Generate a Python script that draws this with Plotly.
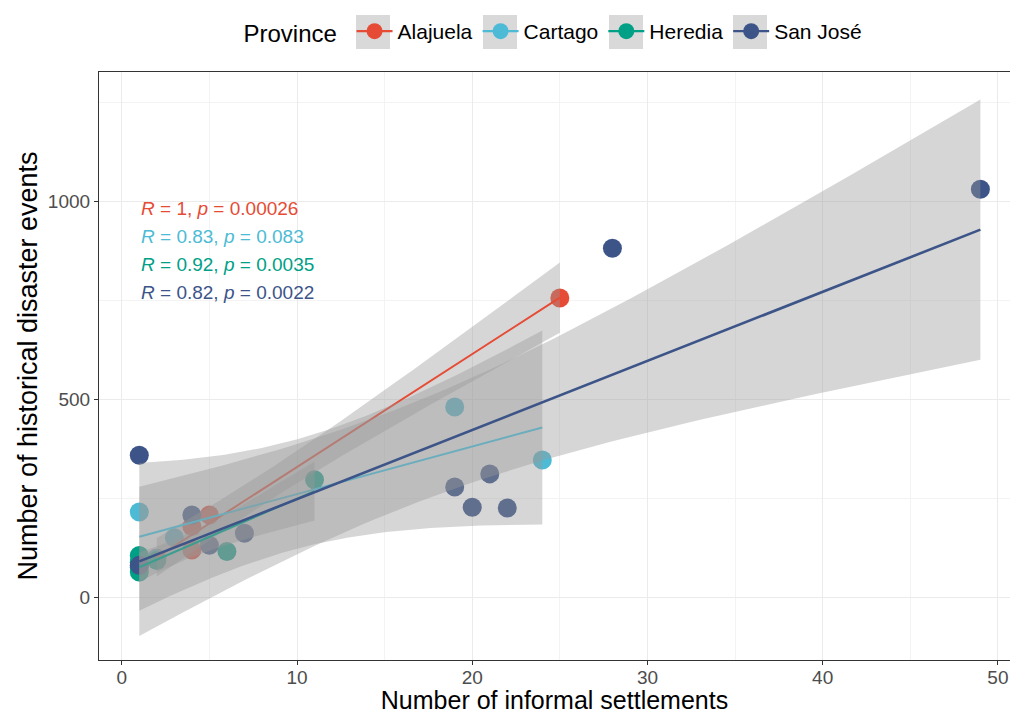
import math
import numpy as np
import plotly.graph_objects as go

# ---- data ----
provinces = ["Alajuela", "Cartago", "Heredia", "San José"]
colors = ["#E64B35", "#4DBBD5", "#00A087", "#3C5488"]

alajuela_x = [2, 4, 4, 5, 25]
alajuela_y = [98, 119, 178, 207, 755]

cartago_x = [1, 2, 3, 19, 24]
cartago_y = [215, 98, 150, 480, 346]

heredia_x = [1, 1, 1, 1, 2, 6, 11]
heredia_y = [105, 88, 75, 63, 92, 115, 296]

sanjose_x = [1, 1, 4, 5, 7, 19, 20, 21, 22, 28, 49]
sanjose_y = [358, 80, 207, 131, 161, 278, 227, 311, 225, 881, 1030]

cor_labels = [
    "<i>R</i> = 1, <i>p</i> = 0.00026",
    "<i>R</i> = 0.83, <i>p</i> = 0.083",
    "<i>R</i> = 0.92, <i>p</i> = 0.0035",
    "<i>R</i> = 0.82, <i>p</i> = 0.0022",
]
cor_label_y = [982, 911, 840, 769]

x_ticks = [0, 10, 20, 30, 40, 50]
y_ticks = [0, 500, 1000]

groups = [
    (alajuela_x, alajuela_y),
    (cartago_x, cartago_y),
    (heredia_x, heredia_y),
    (sanjose_x, sanjose_y),
]

FONT = "Liberation Sans, Arial, sans-serif"


def t_pdf(t, df):
    c = math.gamma((df + 1) / 2) / (math.sqrt(df * math.pi) * math.gamma(df / 2))
    return c * (1 + t * t / df) ** (-(df + 1) / 2)


def t_quantile(p, df):
    def cdf(t):
        xs = np.linspace(0, t, 4001)
        ys = t_pdf(xs, df)
        return 0.5 + np.trapezoid(ys, xs)
    lo, hi = 0.0, 50.0
    for _ in range(80):
        mid = (lo + hi) / 2
        if cdf(mid) < p:
            lo = mid
        else:
            hi = mid
    return (lo + hi) / 2


def lm_band(xs, ys, n_grid=80):
    x = np.asarray(xs, float)
    y = np.asarray(ys, float)
    n = len(x)
    xm, ym = x.mean(), y.mean()
    sxx = ((x - xm) ** 2).sum()
    b = ((x - xm) * (y - ym)).sum() / sxx
    a = ym - b * xm
    resid = y - (a + b * x)
    s = math.sqrt((resid ** 2).sum() / (n - 2))
    tq = t_quantile(0.975, n - 2)
    g = np.linspace(x.min(), x.max(), n_grid)
    fit = a + b * g
    se = s * np.sqrt(1 / n + (g - xm) ** 2 / sxx)
    return g, fit, fit - tq * se, fit + tq * se


fig = go.Figure()

# points first (drawn below the smooths, as in ggplot layer order)
for (xs, ys), name, col in zip(groups, provinces, colors):
    fig.add_trace(go.Scatter(
        x=xs, y=ys, mode="markers", name=name, legendgroup=name,
        showlegend=False, hoverinfo="x+y",
        marker=dict(size=19, color=col, line=dict(width=0)),
    ))

# smooths: ribbon + line per group
for (xs, ys), name, col in zip(groups, provinces, colors):
    g, fit, lo, hi = lm_band(xs, ys)
    fig.add_trace(go.Scatter(
        x=np.concatenate([g, g[::-1]]), y=np.concatenate([hi, lo[::-1]]),
        mode="lines", fill="toself", fillcolor="rgba(153,153,153,0.4)",
        line=dict(width=0), showlegend=False, hoverinfo="skip",
        legendgroup=name,
    ))
    fig.add_trace(go.Scatter(
        x=g, y=fit, mode="lines",
        line=dict(color=col, width=2.6 if name == "San José" else 2.0),
        showlegend=False, legendgroup=name, hoverinfo="skip",
    ))

# legend entries (point + line key)
for name, col in zip(provinces, colors):
    fig.add_trace(go.Scatter(
        x=[None], y=[None], mode="lines+markers", name=name, legendgroup=name,
        marker=dict(size=18, color=col), line=dict(color=col, width=2.2),
    ))

# grey legend key backgrounds (ggplot smooth key look)
key_centers_px = [373, 500, 626, 750]
plot_left_px, plot_w_px, plot_top_px, plot_h_px = 99, 911, 72, 588
for cx in key_centers_px:
    fig.add_shape(
        type="rect", xref="paper", yref="paper", layer="below",
        x0=(cx - 17 - plot_left_px) / plot_w_px, x1=(cx + 17 - plot_left_px) / plot_w_px,
        y0=1 + (plot_top_px - 49) / plot_h_px, y1=1 + (plot_top_px - 15) / plot_h_px,
        fillcolor="#D9D9D9", line=dict(width=0),
    )

# correlation labels
for txt, yy, col in zip(cor_labels, cor_label_y, colors):
    fig.add_annotation(
        x=1, y=yy, xref="x", yref="y", text=txt, showarrow=False,
        xanchor="left", yanchor="middle",
        font=dict(family=FONT, size=19, color=col),
    )

axis_common = dict(
    showline=True, linecolor="#333333", linewidth=1.2, mirror=True,
    ticks="outside", ticklen=4, tickcolor="#333333", tickwidth=1,
    gridcolor="#EBEBEB", gridwidth=1, zeroline=False, automargin=False,
    tickfont=dict(family=FONT, size=19, color="#4D4D4D"),
    minor=dict(showgrid=True, gridcolor="#F3F3F3", gridwidth=0.7),
)

fig.update_layout(
    width=1002, height=706,
    paper_bgcolor="white", plot_bgcolor="white",
    margin=dict(l=91, r=0, t=64, b=54, autoexpand=False),
    font=dict(family=FONT, color="black"),
    xaxis=dict(
        range=[-1.3, 50.69], tickvals=x_ticks, ticktext=[str(v) for v in x_ticks],
        ticklabelstandoff=-4,
        title=dict(text="Number of informal settlements", font=dict(size=25), standoff=7),
        **axis_common,
    ),
    yaxis=dict(
        range=[-159, 1326], tickvals=y_ticks, ticktext=[str(v) for v in y_ticks],
        title=dict(text="Number of historical disaster events", font=dict(size=27), standoff=2),
        **axis_common,
    ),
    legend=dict(
        orientation="h", x=0.5, xanchor="center", y=1.068, yanchor="middle",
        title=dict(text="Province ", font=dict(size=24)),
        font=dict(size=21), itemwidth=36, bgcolor="rgba(0,0,0,0)",
    ),
    showlegend=True,
)
fig.update_xaxes(minor=dict(tickvals=[5, 15, 25, 35, 45]))
fig.update_yaxes(minor=dict(tickvals=[-250, 250, 750, 1250]))

fig.write_html("out.html")
